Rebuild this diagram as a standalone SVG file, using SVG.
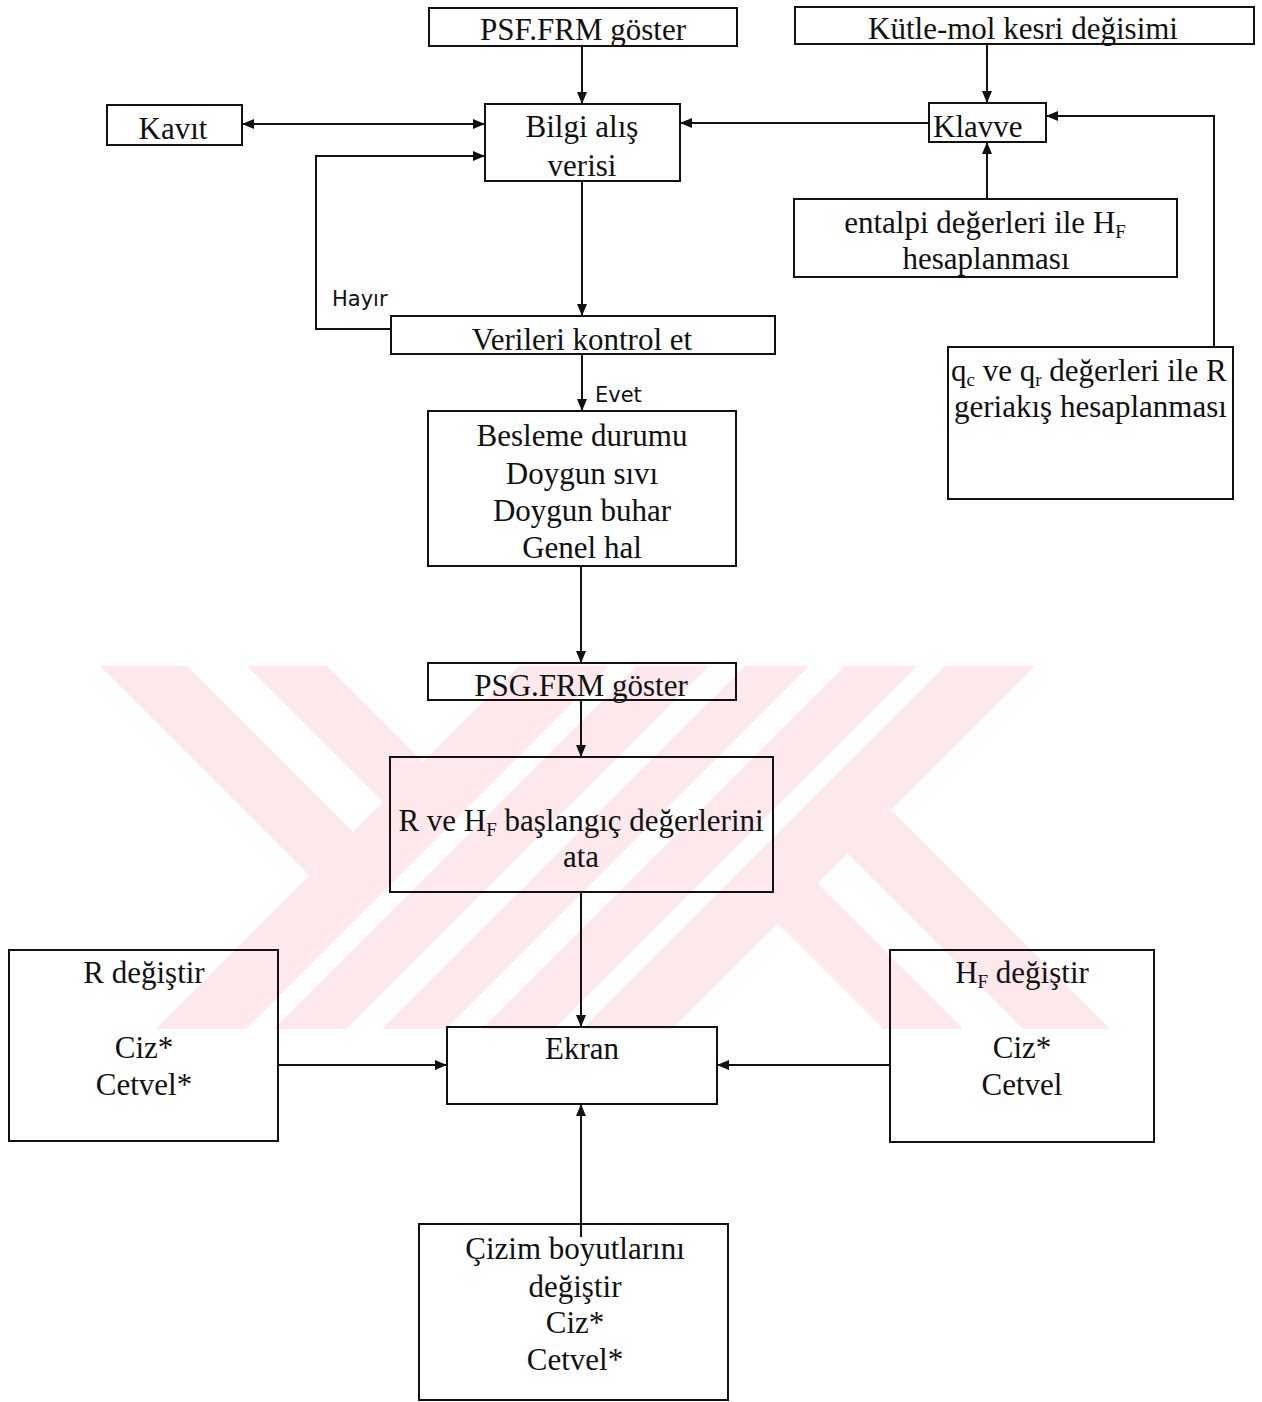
<svg xmlns="http://www.w3.org/2000/svg" width="1262" height="1402" viewBox="0 0 1262 1402">
<style>
.box{fill:none;stroke:#111;stroke-width:2}
.t{font-family:"Liberation Serif","Times New Roman",serif;font-size:31px;fill:#111;text-anchor:middle}
.tl{text-anchor:start}
.s{font-family:"DejaVu Sans",sans-serif;font-size:21px;fill:#111}
.sub{font-size:19px}
.c{fill:none;stroke:#111;stroke-width:2}
.wm{fill:#fde8ec}
</style>
<defs>
<marker id="ah" markerUnits="userSpaceOnUse" markerWidth="12" markerHeight="10" refX="12" refY="5" orient="auto-start-reverse">
<path d="M0,0 L12,5 L0,10 z" fill="#111"/>
</marker>
<clipPath id="wmclip"><rect x="0" y="666" width="1262" height="363"/></clipPath>
</defs>
<rect width="1262" height="1402" fill="#fff"/>
<g id="watermark" clip-path="url(#wmclip)">
<polygon class="wm" points="100,666 187,666 398,877 354.5,920.5"/>
<polygon class="wm" points="247,666 327,666 468,807 428,847"/>
<polygon class="wm" points="519,666 609,666 246,1029 156,1029"/>
<polygon class="wm" points="637,666 709,666 346,1029 274,1029"/>
<polygon class="wm" points="745,666 809,666 446,1029 382,1029"/>
<polygon class="wm" points="845,666 917,666 554,1029 482,1029"/>
<polygon class="wm" points="945,666 1035,666 672,1029 582,1029"/>
<polygon class="wm" points="1110,1029 1023,1029 802.5,808.5 846,765"/>
<polygon class="wm" points="963,1029 883,1029 732.5,878.5 772.5,838.5"/>
</g>
<g id="connectors">
<line class="c" x1="582" y1="45" x2="582" y2="104" marker-end="url(#ah)"/>
<line class="c" x1="242" y1="124" x2="485" y2="124" marker-start="url(#ah)" marker-end="url(#ah)"/>
<line class="c" x1="929" y1="123" x2="680" y2="123" marker-end="url(#ah)"/>
<line class="c" x1="987" y1="44" x2="987" y2="103" marker-end="url(#ah)"/>
<line class="c" x1="987" y1="199" x2="987" y2="142" marker-end="url(#ah)"/>
<polyline class="c" points="1214,347 1214,116 1046,116" marker-end="url(#ah)"/>
<polyline class="c" points="391,329 316,329 316,156 485,156" marker-end="url(#ah)"/>
<line class="c" x1="582" y1="181" x2="582" y2="316" marker-end="url(#ah)"/>
<line class="c" x1="582" y1="354" x2="582" y2="411" marker-end="url(#ah)"/>
<line class="c" x1="581" y1="566" x2="581" y2="663" marker-end="url(#ah)"/>
<line class="c" x1="581" y1="700" x2="581" y2="757" marker-end="url(#ah)"/>
<line class="c" x1="581" y1="892" x2="581" y2="1027" marker-end="url(#ah)"/>
<line class="c" x1="279" y1="1065" x2="447" y2="1065" marker-end="url(#ah)"/>
<line class="c" x1="890" y1="1065" x2="717" y2="1065" marker-end="url(#ah)"/>
<line class="c" x1="581" y1="1237" x2="581" y2="1104" marker-end="url(#ah)"/>
<text class="s" x="332" y="306">Hayır</text>
<text class="s" x="595" y="402">Evet</text>
</g>
<g id="n-psf">
<rect class="box" x="429" y="8" width="308" height="38"/>
<text class="t" x="583" y="40">PSF.FRM göster</text>
</g>
<g id="n-kutle">
<rect class="box" x="795" y="7" width="459" height="37"/>
<text class="t" x="1023" y="39">Kütle-mol kesri değisimi</text>
</g>
<g id="n-kayit">
<rect class="box" x="107" y="105" width="135" height="40"/>
<text class="t" x="173" y="139">Kavıt</text>
</g>
<g id="n-bilgi">
<rect class="box" x="485" y="104" width="195" height="77"/>
<text class="t" x="582" y="137">Bilgi alış</text>
<text class="t" x="582" y="176">verisi</text>
</g>
<g id="n-klavye">
<rect class="box" x="929" y="103" width="117" height="39"/>
<text class="t tl" x="933" y="137">Klavve</text>
</g>
<g id="n-entalpi">
<rect class="box" x="794" y="199" width="383" height="78"/>
<text class="t" x="985" y="233">entalpi değerleri ile H<tspan class="sub" dy="5">F</tspan></text>
<text class="t" x="986" y="269">hesaplanması</text>
</g>
<g id="n-kontrol">
<rect class="box" x="391" y="316" width="384" height="38"/>
<text class="t" x="582" y="350">Verileri kontrol et</text>
</g>
<g id="n-geriakis">
<rect class="box" x="948" y="347" width="285" height="152"/>
<text class="t tl" x="951" y="381">q<tspan class="sub" dy="5">c</tspan><tspan dy="-5"> ve q</tspan><tspan class="sub" dy="5">r</tspan><tspan dy="-5"> değerleri ile R</tspan></text>
<text class="t tl" x="954" y="417">geriakış hesaplanması</text>
</g>
<g id="n-besleme">
<rect class="box" x="428" y="411" width="308" height="155"/>
<text class="t" x="582" y="446">Besleme durumu</text>
<text class="t" x="582" y="484">Doygun sıvı</text>
<text class="t" x="582" y="521">Doygun buhar</text>
<text class="t" x="582" y="558">Genel hal</text>
</g>
<g id="n-psg">
<rect class="box" x="428" y="663" width="308" height="37"/>
<text class="t" x="581" y="696">PSG.FRM göster</text>
</g>
<g id="n-baslangic">
<rect class="box" x="390" y="757" width="383" height="135"/>
<text class="t" x="581" y="831">R ve H<tspan class="sub" dy="5">F</tspan><tspan dy="-5"> başlangıç değerlerini</tspan></text>
<text class="t" x="581" y="867">ata</text>
</g>
<g id="n-rdegistir">
<rect class="box" x="9" y="950" width="269" height="191"/>
<text class="t" x="144" y="983">R değiştir</text>
<text class="t" x="144" y="1058">Ciz*</text>
<text class="t" x="144" y="1095">Cetvel*</text>
</g>
<g id="n-ekran">
<rect class="box" x="447" y="1027" width="270" height="77"/>
<text class="t" x="582" y="1059">Ekran</text>
</g>
<g id="n-hfdegistir">
<rect class="box" x="890" y="950" width="264" height="192"/>
<text class="t" x="1022" y="983">H<tspan class="sub" dy="5">F</tspan><tspan dy="-5"> değiştir</tspan></text>
<text class="t" x="1022" y="1058">Ciz*</text>
<text class="t" x="1022" y="1095">Cetvel</text>
</g>
<g id="n-cizim">
<rect class="box" x="419" y="1224" width="309" height="176"/>
<text class="t" x="575" y="1259">Çizim boyutlarını</text>
<text class="t" x="575" y="1297">değiştir</text>
<text class="t" x="575" y="1333">Ciz*</text>
<text class="t" x="575" y="1370">Cetvel*</text>
</g>
</svg>
